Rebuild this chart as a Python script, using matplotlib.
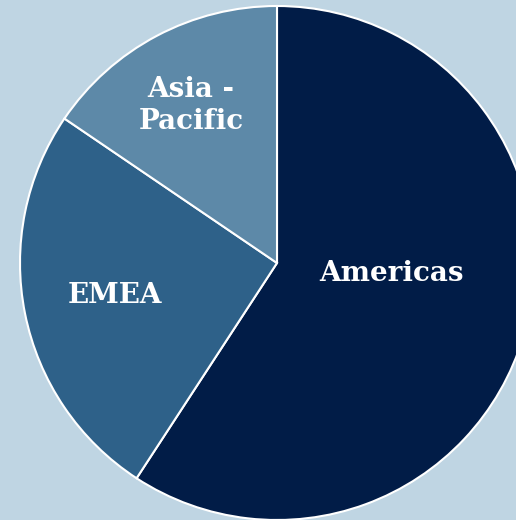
import matplotlib.pyplot as plt

regions = ["Americas", "EMEA", "Asia -\nPacific"]
shares = [59.2, 25.3, 15.5]
colors = ["#011c47", "#2e6189", "#5d89a8"]

fig = plt.figure(figsize=(5.16, 5.2), dpi=100)
fig.patch.set_facecolor("#bfd5e3")
ax = fig.add_axes([0, 0, 1, 1])
ax.set_facecolor("#bfd5e3")

ax.pie(shares, colors=colors, startangle=90, counterclock=False, radius=1,
       wedgeprops={"edgecolor": "white", "linewidth": 1.5})

# pie of radius 1, centre at pixel (277, 263), radius 257 px
r_px = 257
ax.set_xlim(-277 / r_px, (516 - 277) / r_px)
ax.set_ylim(-(520 - 263) / r_px, 263 / r_px)
ax.axis("off")

label_pos = [(0.447, -0.039), (-0.630, -0.128), (-0.335, 0.612)]
for name, (x, y) in zip(regions, label_pos):
    ax.text(x, y, name, color="white", fontsize=20, fontweight="bold",
            family="DejaVu Serif", ha="center", va="center", linespacing=1.25)

fig.savefig("out.png", dpi=100, facecolor=fig.get_facecolor())
